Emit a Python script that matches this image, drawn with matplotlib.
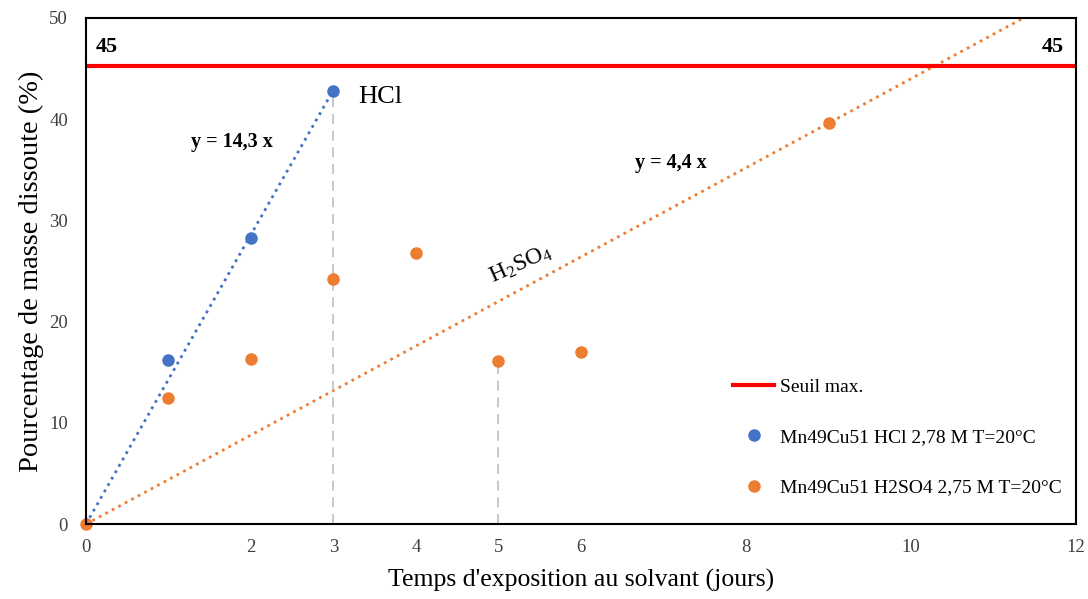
import matplotlib
matplotlib.use("Agg")
import matplotlib.pyplot as plt
import numpy as np

plt.rcParams['font.family'] = ['Liberation Serif', 'DejaVu Serif']
plt.rcParams['mathtext.fontset'] = 'custom'
plt.rcParams['mathtext.rm'] = 'Liberation Serif'

# data
jours_hcl = [0, 1, 2, 3]
masse_hcl = [0, 16.2, 28.3, 42.8]
jours_h2so4 = [0, 1, 2, 3, 4, 5, 6, 9]
masse_h2so4 = [0, 12.5, 16.3, 24.2, 26.8, 16.1, 17.0, 39.6]
pente_hcl = 14.3
pente_h2so4 = 4.4
seuil = 45.3
xticks = [0, 2, 3, 4, 5, 6, 8, 10, 12]
yticks = [0, 10, 20, 30, 40, 50]

blue = '#4472C4'
orange = '#ED7D31'

fig = plt.figure(figsize=(10.88, 5.99), dpi=100)
ax = fig.add_axes([0.079, 0.125, 0.910, 0.845])

# trend lines
x1 = np.array([0, 3])
ax.plot(x1, pente_hcl * x1, ':', color=blue, lw=2)
x2 = np.array([0, 12])
ax.plot(x2, pente_h2so4 * x2, ':', color=orange, lw=2)

# drop lines
ax.plot([3, 3], [0, masse_hcl[3]], '--', color='#BFBFBF', lw=1.2, dashes=(6, 4))
ax.plot([5, 5], [0, masse_h2so4[5]], '--', color='#BFBFBF', lw=1.2, dashes=(6, 4))

ax.axhline(seuil, color='#FF0000', lw=3, label='Seuil max.')
ax.plot(jours_hcl, masse_hcl, 'o', color=blue, ms=8, label='Mn49Cu51 HCl 2,78 M T=20°C')
ax.plot(jours_h2so4, masse_h2so4, 'o', color=orange, ms=8,
        label='Mn49Cu51 H2SO4 2,75 M T=20°C', clip_on=False)

ax.set_xlim(0, 12)
ax.set_ylim(0, 50)
ax.set_xticks(xticks)
ax.set_yticks(yticks)
ax.tick_params(length=0, labelsize=13.5)
ax.tick_params(axis='y', pad=13)
ax.tick_params(axis='x', pad=11)
ax.tick_params(colors='#404040', axis='both')
for s in ax.spines.values():
    s.set_linewidth(1.5)

ax.set_xlabel("Temps d'exposition au solvant (jours)", fontsize=18.5, labelpad=9)
ax.set_ylabel("Pourcentage de masse dissoute (%)", fontsize=20.5, labelpad=4)

ax.text(0.12, 46.6, '45', fontsize=16, fontweight='bold')
ax.text(11.85, 46.6, '45', fontsize=16, fontweight='bold', ha='right')
ax.text(3.3, 41.6, 'HCl', fontsize=19)
ax.text(1.27, 37.3, 'y = 14,3 x', fontsize=14.5, fontweight='bold')
ax.text(6.65, 35.2, 'y = 4,4 x', fontsize=14.5, fontweight='bold')
ax.text(4.85, 23.8, r'$\mathrm{H_2SO_4}$', fontsize=17, rotation=24)

ax.legend(loc='lower right', bbox_to_anchor=(1.003, 0.02), frameon=False,
          fontsize=14, labelspacing=1.68, handlelength=2.1, handletextpad=0.3)

fig.savefig('out.png', dpi=100)
